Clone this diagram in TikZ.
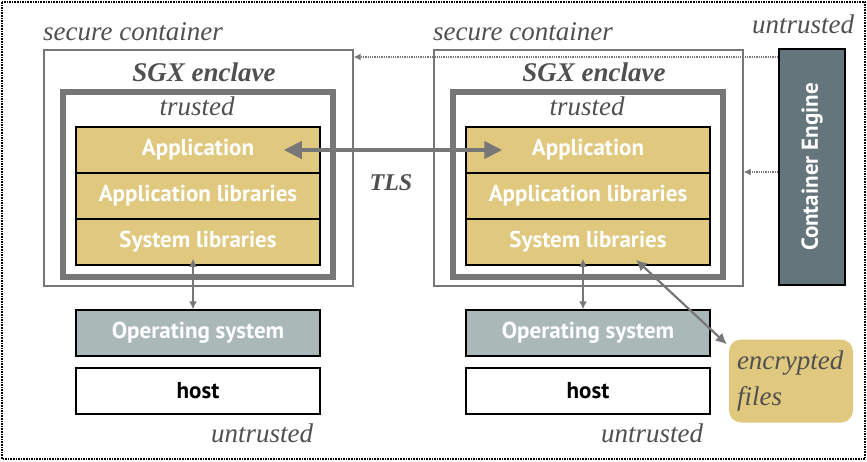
\documentclass[tikz,border=0pt]{standalone}
\usepackage{fontspec}
\setmainfont{Liberation Serif}
\setsansfont{PT Sans}
\usetikzlibrary{arrows.meta}
\definecolor{sgxyellow}{HTML}{E0C97E}
\definecolor{osgray}{HTML}{AAB9B8}
\definecolor{enginegray}{HTML}{64767B}
\definecolor{linegray}{HTML}{777777}
\definecolor{lblgray}{HTML}{505050}
\tikzset{
  layer/.style={draw=black, line width=1.5pt, fill=sgxyellow, minimum width=244pt,
    minimum height=46pt, inner sep=0pt, text=white, font=\sffamily\bfseries\fontsize{23}{26}\selectfont},
  lbl/.style={text=lblgray, inner sep=0pt, font=\itshape\fontsize{27}{30}\selectfont},
  container/.style={draw=linegray, line width=1.3pt},
  enclave/.style={draw=linegray, line width=6pt},
  ctrl/.style={draw=linegray, line width=1.3pt, densely dotted, -{Latex[length=7pt,width=7pt]}},
  sys/.style={draw=linegray, line width=1.8pt, {Latex[length=8pt,width=8pt]}-{Latex[length=8pt,width=8pt]}},
}
\begin{document}
\begin{tikzpicture}[x=1pt,y=-1pt]
\useasboundingbox (0,0) rectangle (867,461);
\draw[densely dotted, line width=1.6pt] (2,2) rectangle (865,459);

\foreach \dx/\s in {0/L,390/R}{
  \begin{scope}[xshift=\dx]
    \node[container, minimum width=309pt, minimum height=236pt] (\s-cont) at (198.5,168) {};
    \node[enclave, minimum width=270pt, minimum height=185pt] (\s-encl) at (198,184.5) {};
    \node[lbl] (\s-cname) at (133,32) {secure container};
    \node[lbl, font=\bfseries\itshape\fontsize{27}{30}\selectfont] (\s-sgx) at (204,72) {SGX enclave};
    \node[lbl] (\s-trust) at (197,106) {trusted};
    % trusted stack
    \node[layer] (\s-app) at (198,150) {Application};
    \node[layer] (\s-lib) at (198,196) {Application libraries};
    \node[layer] (\s-sys) at (198,242) {System libraries};
    % untrusted part
    \node[layer, fill=osgray] (\s-os) at (198,333) {Operating system};
    \node[layer, fill=white, text=black] (\s-host) at (198,391) {host};
    \node[lbl] (\s-untr) at (262,433) {untrusted};
    \draw[sys, shorten >=-7pt] ([xshift=-5pt]\s-os.north) -- ([xshift=-5pt]\s-sys.south);
  \end{scope}
}

\node[draw=black, line width=1.5pt, fill=enginegray, minimum width=66pt, minimum height=236pt,
  text=white, font=\sffamily\bfseries\fontsize{23}{26}\selectfont] (engine) at (812,167)
  {\rotatebox{90}{Container Engine}};
\node[lbl] (eng-untr) at (803,24) {untrusted};

\node[fill=sgxyellow, rounded corners=12pt, minimum width=124pt, minimum height=83pt,
  text width=108pt, align=left, inner sep=0pt, text=lblgray,
  font=\itshape\fontsize{27}{36}\selectfont] (files) at (791,381) {encrypted\\files};

% connectors
\draw[linegray, line width=4pt, shorten <=-37pt, shorten >=-37pt,
  {Triangle[length=18pt,width=17pt]}-{Triangle[length=18pt,width=17pt]}] (L-app.east) -- (R-app.west);
\node[lbl, font=\bfseries\itshape\fontsize{24}{28}\selectfont] (tls) at (391,183) {TLS};
\draw[sys, line width=2.2pt, {Latex[length=11pt,width=11pt]}-{Latex[length=11pt,width=11pt]}]
  ([xshift=48pt,yshift=6pt]R-sys.south) -- ([xshift=-2pt,yshift=-5pt]files.north west);

\path ([yshift=110pt]engine.west) coordinate (ce1);
\draw[ctrl] (ce1) -- (ce1 -| L-cont.east);
\path ([yshift=-5pt]engine.west) coordinate (ce2);
\draw[ctrl] (ce2) -- (ce2 -| R-cont.east);
\end{tikzpicture}
\end{document}
